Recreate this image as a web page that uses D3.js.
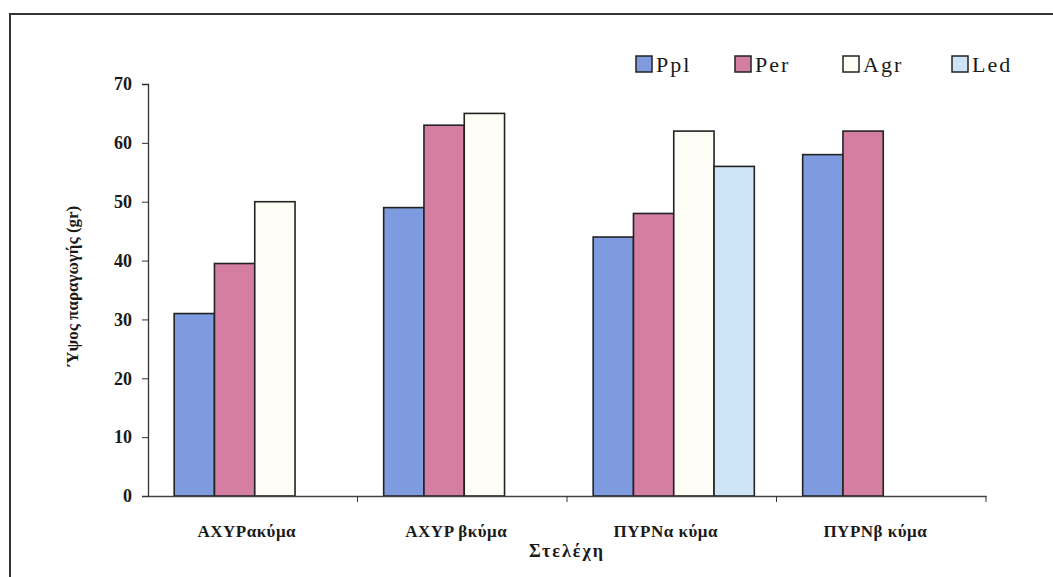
<!DOCTYPE html>
<head>
  <meta charset="utf-8">
  <script src="https://d3js.org/d3.v7.min.js"></script>
  <style>
    body { margin: 0; background: #fff; }
    svg text { font-family: "Liberation Serif", "DejaVu Serif", serif !important; fill: #1a1a1a; }
  </style>
</head>
<body>
  <div class="chart"></div>
  <script>
    var categories = ["ΑΧΥΡακύμα", "ΑΧΥΡ βκύμα", "ΠΥΡΝα κύμα", "ΠΥΡΝβ κύμα"];
    var seriesNames = ["Ppl", "Per", "Agr", "Led"];
    var ppl = [31, 49, 44, 58];
    var per = [39.5, 63, 48, 62];
    var agr = [50, 65, 62, null];
    var led = [null, null, 56, null];
    var yTicks = [0, 10, 20, 30, 40, 50, 60, 70];
    var colors = ["#7f9be0", "#d47ea3", "#fffef6", "#cde5f7"];

    var width = 1053, height = 577;
    var margin = {left: 148, right: 67, top: 84, bottom: 81};

    var svg = d3.select(".chart").append("svg")
      .attr("width", width)
      .attr("height", height);

    // scanned page frame
    svg.append("path")
      .attr("d", "M10,590 L10,14 L1060,14")
      .attr("fill", "none")
      .attr("stroke", "#333")
      .attr("stroke-width", 2);

    var series = seriesNames.map(function(name, i) {
      return {name: name, values: [ppl, per, agr, led][i], color: colors[i]};
    });

    var x = d3.scaleBand()
      .domain(categories)
      .range([margin.left, width - margin.right])
      .paddingInner(0)
      .paddingOuter(0);

    var x1 = d3.scaleBand()
      .domain(seriesNames)
      .range([0, x.bandwidth()])
      .paddingOuter(0.6)
      .paddingInner(0);

    var y = d3.scaleLinear()
      .domain([0, 70])
      .range([height - margin.bottom, margin.top]);

    // bars
    series.forEach(function(s) {
      svg.append("g").selectAll("rect")
        .data(s.values.map(function(v, i) { return {cat: categories[i], v: v}; })
          .filter(function(d) { return d.v != null; }))
        .enter().append("rect")
        .attr("x", function(d) { return x(d.cat) + x1(s.name) + 2; })
        .attr("y", function(d) { return y(d.v); })
        .attr("width", x1.bandwidth())
        .attr("height", function(d) { return y(0) - y(d.v); })
        .attr("fill", s.color)
        .attr("stroke", "#222")
        .attr("stroke-width", 1.6);
    });

    // y axis
    var yAxis = svg.append("g")
      .attr("transform", "translate(" + margin.left + ",0)")
      .call(d3.axisLeft(y).tickValues(yTicks).tickSize(6).tickPadding(10));
    yAxis.select(".domain").attr("stroke", "#333").attr("stroke-width", 1.3);
    yAxis.selectAll(".tick line").attr("stroke", "#333");
    yAxis.selectAll("text")
      .style("font-size", "18px")
      .style("font-weight", "bold")
      .attr("fill", "#222");

    // x axis
    var xAxis = svg.append("g")
      .attr("transform", "translate(0," + y(0) + ")")
      .call(d3.axisBottom(x).tickSize(0).tickPadding(29));
    xAxis.select(".domain").attr("stroke", "#444").attr("stroke-width", 1.3);
    xAxis.selectAll("text")
      .style("font-size", "17px")
      .style("font-weight", "bold")
      .style("letter-spacing", "0.5px")
      .attr("fill", "#222")
      .attr("dx", "-6");
    // boundary ticks between categories
    svg.append("g").selectAll("line")
      .data(categories.slice(1).concat(["end"]))
      .enter().append("line")
      .attr("x1", function(d) { return d === "end" ? x.range()[1] : x(d); })
      .attr("x2", function(d) { return d === "end" ? x.range()[1] : x(d); })
      .attr("y1", y(0))
      .attr("y2", y(0) + 6)
      .attr("stroke", "#333");

    // axis titles
    svg.append("text")
      .attr("x", 567)
      .attr("y", 557)
      .attr("text-anchor", "middle")
      .style("font-size", "18px")
      .style("font-weight", "bold")
      .style("letter-spacing", "2px")
      .text("Στελέχη");

    svg.append("text")
      .attr("transform", "translate(78,286) rotate(-90)")
      .attr("text-anchor", "middle")
      .style("font-size", "17px")
      .style("font-weight", "bold")
      .text("Ύψος παραγωγής (gr)");

    // legend
    var legendX = [636, 735, 843, 952];
    var legend = svg.append("g").selectAll("g")
      .data(series)
      .enter().append("g")
      .attr("transform", function(d, i) { return "translate(" + legendX[i] + ",56)"; });
    legend.append("rect")
      .attr("width", 16)
      .attr("height", 16)
      .attr("fill", function(d) { return d.color; })
      .attr("stroke", "#222")
      .attr("stroke-width", 1.5);
    legend.append("text")
      .attr("x", 20)
      .attr("y", 16)
      .style("font-size", "22px")
      .style("letter-spacing", "2px")
      .text(function(d) { return d.name; });
  </script>
</body>
